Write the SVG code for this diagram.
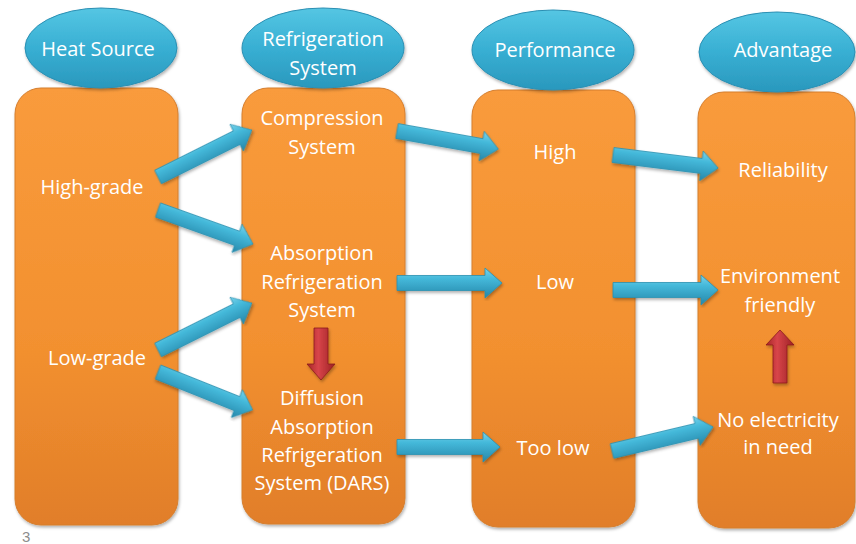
<svg xmlns="http://www.w3.org/2000/svg" xmlns:xlink="http://www.w3.org/1999/xlink" width="856" height="544" viewBox="0 0 856 544">
<defs>
<linearGradient id="gBox" x1="0" y1="0" x2="0" y2="1">
<stop offset="0" stop-color="#F99B3C"/>
<stop offset="0.6" stop-color="#F2902F"/>
<stop offset="1" stop-color="#E17E2A"/>
</linearGradient>
<linearGradient id="gEll" x1="0" y1="0" x2="0" y2="1">
<stop offset="0" stop-color="#55C6E3"/>
<stop offset="0.5" stop-color="#38AFD3"/>
<stop offset="1" stop-color="#2A98BD"/>
</linearGradient>
<linearGradient id="gBlue" x1="0" y1="0" x2="0" y2="1">
<stop offset="0" stop-color="#7AD3EA"/>
<stop offset="0.35" stop-color="#45B9DA"/>
<stop offset="1" stop-color="#2587AA"/>
</linearGradient>
<linearGradient id="gRed" x1="0" y1="0" x2="1" y2="0">
<stop offset="0" stop-color="#A52427"/>
<stop offset="0.4" stop-color="#D8454A"/>
<stop offset="1" stop-color="#9C2024"/>
</linearGradient>
<filter id="sh" x="-10%" y="-10%" width="120%" height="120%">
<feDropShadow dx="1" dy="2" stdDeviation="1.5" flood-color="#000" flood-opacity="0.3"/>
</filter>
</defs>
<style>
.box{fill:url(#gBox);stroke:#D57E2E;stroke-width:1;filter:url(#sh)}
.ell{fill:url(#gEll);stroke:#2A8FB3;stroke-width:1;filter:url(#sh)}
.t{font-family:"Open Sans","Liberation Sans",sans-serif;font-size:20px;fill:#FFFFFF;text-anchor:middle}
.ba{fill:url(#gBlue);stroke:#2A8FB0;stroke-width:0.8;filter:url(#sh)}
.ra{fill:url(#gRed);stroke:#8A1A1D;stroke-width:0.8;filter:url(#sh)}
.num{font-family:"Liberation Sans",sans-serif;font-size:15px;fill:#8C8C8C}
</style>
<rect width="856" height="544" fill="#FFFFFF"/>

<g id="col-heat-source">
<rect class="box" x="15" y="88" width="163" height="437" rx="26"/>
<ellipse class="ell" cx="101" cy="48" rx="76" ry="40"/>
<text class="t" x="98" y="56">Heat Source</text>
</g>
<g id="col-refrigeration">
<rect class="box" x="242" y="88" width="163" height="436" rx="26"/>
<ellipse class="ell" cx="323" cy="48" rx="81" ry="40"/>
<text class="t" x="323" y="46">Refrigeration</text>
<text class="t" x="323" y="75">System</text>
</g>
<g id="col-performance">
<rect class="box" x="472" y="90" width="163" height="437" rx="26"/>
<ellipse class="ell" cx="553" cy="50" rx="81" ry="40"/>
<text class="t" x="555" y="57">Performance</text>
</g>
<g id="col-advantage">
<rect class="box" x="698" y="92" width="157" height="436" rx="26"/>
<ellipse class="ell" cx="777" cy="52" rx="78" ry="40"/>
<text class="t" x="783" y="57">Advantage</text>
</g>

<g id="n-high-grade"><text class="t" x="92" y="194">High-grade</text></g>
<g id="n-low-grade"><text class="t" x="97" y="365">Low-grade</text></g>
<g id="n-compression"><text class="t" x="322" y="125">Compression</text><text class="t" x="322" y="154">System</text></g>
<g id="n-absorption"><text class="t" x="322" y="260">Absorption</text><text class="t" x="322" y="289">Refrigeration</text><text class="t" x="322" y="317">System</text></g>
<g id="n-dars"><text class="t" x="322" y="405">Diffusion</text><text class="t" x="322" y="434">Absorption</text><text class="t" x="322" y="462">Refrigeration</text><text class="t" x="322" y="490">System (DARS)</text></g>
<g id="n-high"><text class="t" x="555" y="159">High</text></g>
<g id="n-low"><text class="t" x="555" y="289">Low</text></g>
<g id="n-too-low"><text class="t" x="553" y="455">Too low</text></g>
<g id="n-reliability"><text class="t" x="783" y="177">Reliability</text></g>
<g id="n-environment"><text class="t" x="780" y="283">Environment</text><text class="t" x="780" y="312">friendly</text></g>
<g id="n-no-electricity"><text class="t" x="778" y="427">No electricity</text><text class="t" x="778" y="454">in need</text></g>

<g id="connectors">
<path class="ba" transform="translate(158,177) rotate(-26.57)" d="M0,-7.5 L88,-7.5 L88,-15 L105,0 L88,15 L88,7.5 L0,7.5 Z"/>
<path class="ba" transform="translate(158,210) rotate(19.69)" d="M0,-7.5 L84,-7.5 L84,-15 L101,0 L84,15 L84,7.5 L0,7.5 Z"/>
<path class="ba" transform="translate(158,350) rotate(-26.57)" d="M0,-7.5 L88,-7.5 L88,-15 L105,0 L88,15 L88,7.5 L0,7.5 Z"/>
<path class="ba" transform="translate(158,372) rotate(21.8)" d="M0,-7.5 L85,-7.5 L85,-15 L102,0 L85,15 L85,7.5 L0,7.5 Z"/>
<path class="ba" transform="translate(397,131) rotate(10.1)" d="M0,-7.5 L86,-7.5 L86,-15 L103,0 L86,15 L86,7.5 L0,7.5 Z"/>
<path class="ba" transform="translate(397,283)" d="M0,-7.5 L88,-7.5 L88,-15 L105,0 L88,15 L88,7.5 L0,7.5 Z"/>
<path class="ba" transform="translate(397,447)" d="M0,-7.5 L86,-7.5 L86,-15 L103,0 L86,15 L86,7.5 L0,7.5 Z"/>
<path class="ba" transform="translate(613,155) rotate(7.06)" d="M0,-7.5 L89,-7.5 L89,-15 L106,0 L89,15 L89,7.5 L0,7.5 Z"/>
<path class="ba" transform="translate(613,290)" d="M0,-7.5 L88,-7.5 L88,-15 L105,0 L88,15 L88,7.5 L0,7.5 Z"/>
<path class="ba" transform="translate(612,451) rotate(-13.37)" d="M0,-7.5 L87,-7.5 L87,-15 L104,0 L87,15 L87,7.5 L0,7.5 Z"/>
<path class="ra" d="M314,328 L328,328 L328,364 L335,364 L321,380 L307,364 L314,364 Z"/>
<path class="ra" d="M773,383 L787,383 L787,345 L794,345 L780,330 L766,345 L773,345 Z"/>
</g>

<text class="num" x="22" y="542">3</text>
</svg>
